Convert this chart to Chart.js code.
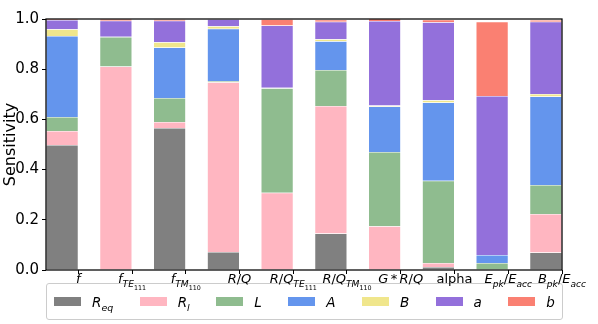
<!DOCTYPE html>
<html>
<head>
<meta charset="utf-8">
<script src="https://cdn.jsdelivr.net/npm/chart.js@4/dist/chart.umd.min.js"></script>
<style>
  body { margin: 0; background: #fff; }
  #wrap { position: relative; width: 598px; height: 324px; font-family: "DejaVu Sans", sans-serif; }
  .xlab { position: absolute; top: 272px; transform: translateX(-50%); font-size: 13px; line-height: 13px; white-space: nowrap; color: #000; }
  sub { font-size: 70%; vertical-align: -0.45em; line-height: 0; }
  .op { margin: 0 0.18em; }
  #legend {
    position: absolute; left: 46px; top: 283px; width: 517px; height: 37px; box-sizing: border-box;
    border: 1px solid #ccc; border-radius: 3px; display: flex; justify-content: space-between; align-items: center;
    padding: 0 7px; font-size: 13.5px;
  }
  #legend .item { display: flex; align-items: center; }
  #legend .patch { width: 27px; height: 9.5px; margin-right: 11px; }
</style>
</head>
<body>
<div id="wrap">
  <canvas id="myChart" width="598" height="324"></canvas>
  <div id="legend"></div>
</div>
<script>
// data
const categories = ["$f$", "$f_{TE_{111}}$", "$f_{TM_{110}}$", "$R/Q$", "$R/Q_{TE_{111}}$", "$R/Q_{TM_{110}}$", "$G*R/Q$", "alpha", "$E_{pk}/E_{acc}$", "$B_{pk}/E_{acc}$"];
const seriesNames = ["$R_{eq}$", "$R_l$", "$L$", "$A$", "$B$", "$a$", "$b$"];
const Req = [0.498, 0, 0.566, 0.072, 0, 0.145, 0, 0.012, 0, 0.070];
const Rl = [0.056, 0.811, 0.024, 0.676, 0.308, 0.508, 0.174, 0.016, 0, 0.153];
const L = [0.056, 0.117, 0.095, 0.005, 0.416, 0.144, 0.296, 0.328, 0.028, 0.116];
const A = [0.322, 0.001, 0.201, 0.208, 0.001, 0.114, 0.181, 0.311, 0.032, 0.352];
const B = [0.027, 0, 0.021, 0.010, 0.001, 0.008, 0.004, 0.009, 0, 0.010];
const a = [0.037, 0.064, 0.086, 0.028, 0.248, 0.070, 0.337, 0.311, 0.633, 0.288];
const b = [0.004, 0.007, 0.006, 0.001, 0.025, 0.008, 0.009, 0.010, 0.296, 0.007];
const yTicks = [0, 0.2, 0.4, 0.6, 0.8, 1.0];

const series = [Req, Rl, L, A, B, a, b];
const colors = ["#808080", "#FFB6C1", "#8FBC8F", "#6495ED", "#F0E68C", "#9370DB", "#FA8072"];
const halfBar = 0.3;

// tiny mathtext -> html (italic letters, _{} subscripts)
function toHtml(s, math) {
  let out = "", i = 0;
  while (i < s.length) {
    const c = s[i];
    if (c === "_") {
      let inner;
      i++;
      if (s[i] === "{") {
        let d = 1, j = i + 1;
        while (d) { if (s[j] === "{") d++; else if (s[j] === "}") d--; j++; }
        inner = s.slice(i + 1, j - 1);
        i = j;
      } else {
        inner = s[i];
        i++;
      }
      out += "<sub>" + toHtml(inner, math) + "</sub>";
    } else if (c === "*") {
      out += '<span class="op">*</span>';
      i++;
    } else {
      out += math && /[A-Za-z]/.test(c) ? "<i>" + c + "</i>" : c;
      i++;
    }
  }
  return out;
}
function label(s) {
  if (s[0] === "$") return toHtml(s.slice(1, -1), true);
  return toHtml(s, false);
}

// legend
{
  const lg = document.getElementById("legend");
  seriesNames.forEach((n, k) => {
    const it = document.createElement("div");
    it.className = "item";
    it.innerHTML = '<span class="patch" style="background:' + colors[k] + '"></span><span>' + label(n) + "</span>";
    lg.appendChild(it);
  });
}

const xLabels = {
  id: "xLabels",
  afterDraw(chart) {
    const wrap = document.getElementById("wrap");
    wrap.querySelectorAll(".xlab").forEach((e) => e.remove());
    const xs = chart.scales.x;
    categories.forEach((c, i) => {
      const d = document.createElement("div");
      d.className = "xlab";
      d.style.left = xs.getPixelForValue(i + halfBar) + "px";
      d.innerHTML = label(c);
      wrap.appendChild(d);
    });
  },
};

const frame = {
  id: "frame",
  afterDraw(chart) {
    const { left, right, top, bottom } = chart.chartArea;
    const c = chart.ctx;
    c.save();
    c.strokeStyle = "#000";
    c.lineWidth = 1.25;
    c.strokeRect(left, top, right - left, bottom - top);
    c.restore();
  },
};

// chart
{
  const ctx = document.getElementById("myChart");

  new Chart(ctx, {
    type: "bar",
    data: {
      datasets: series.map((vals, k) => ({
        label: seriesNames[k],
        data: vals.map((v, i) => ({ x: i, y: v })),
        backgroundColor: colors[k],
        borderColor: "rgba(255,255,255,0.35)",
        borderWidth: 0.5,
        categoryPercentage: 1,
        barPercentage: 0.6,
      })),
    },
    options: {
      responsive: false,
      animation: false,
      devicePixelRatio: 1,
      layout: { padding: { top: 19, right: 36, left: 1, bottom: 0 } },
      scales: {
        x: {
          type: "linear",
          stacked: true,
          offset: false,
          min: -halfBar,
          max: categories.length - 1 + halfBar,
          afterBuildTicks: (scale) => {
            scale.ticks = categories.map((_, i) => ({ value: i + halfBar }));
          },
          afterFit: (scale) => {
            scale.height = 54;
          },
          border: { display: false },
          grid: { offset: false, drawOnChartArea: false, drawTicks: true, tickLength: 4, color: "#000" },
          ticks: { callback: () => "", padding: 0 },
        },
        y: {
          stacked: true,
          min: 0,
          max: 1,
          afterBuildTicks: (scale) => {
            scale.ticks = yTicks.map((v) => ({ value: v }));
          },
          afterFit: (scale) => {
            scale.width = 45;
          },
          border: { display: false },
          grid: { drawOnChartArea: false, drawTicks: true, tickLength: 4, color: "#000" },
          ticks: {
            color: "#000",
            padding: 3,
            font: { family: "DejaVu Sans", size: 15 },
            callback: (v) => Number(v).toFixed(1),
          },
          title: {
            display: true,
            text: "Sensitivity",
            color: "#000",
            padding: { top: 0, bottom: 0 },
            font: { family: "DejaVu Sans", size: 16 },
          },
        },
      },
      plugins: {
        legend: { display: false },
        tooltip: { enabled: false },
      },
    },
    plugins: [xLabels, frame],
  });
}
</script>
</body>
</html>
